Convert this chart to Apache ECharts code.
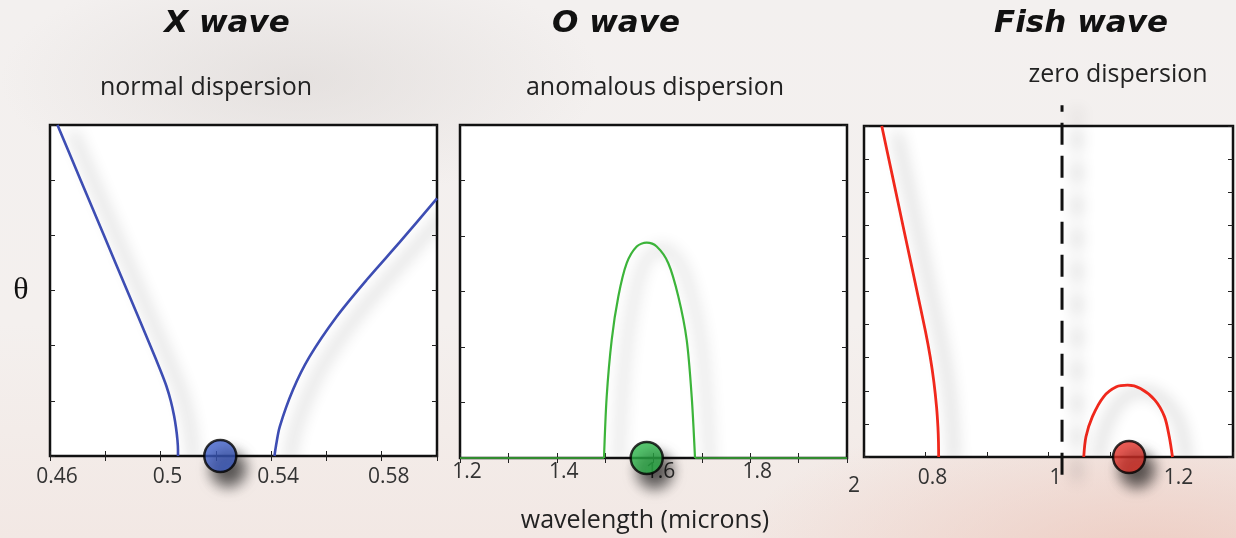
<!DOCTYPE html>
<html>
<head>
<meta charset="utf-8">
<script src="https://cdn.jsdelivr.net/npm/echarts@6/dist/echarts.min.js"></script>
<style>
html,body{margin:0;padding:0;}
body{width:1236px;height:538px;overflow:hidden;
background:
 radial-gradient(ellipse 420px 160px at 1150px 560px, rgba(236,196,184,0.75), rgba(236,196,184,0) 100%),
 radial-gradient(ellipse 300px 120px at 300px 80px, rgba(215,210,208,0.5), rgba(215,210,208,0) 100%),
 linear-gradient(180deg,#f3f0ef 0%,#f4f0ee 60%,#f2e8e4 100%);}
#c{width:1236px;height:538px;}
</style>
</head>
<body>
<div id="c"></div>
<script>
// ---- data (wavelength in microns, theta in arbitrary units) ----
const xLeftLambda  = [0.4627, 0.4711, 0.4795, 0.4879, 0.4963, 0.4999, 0.5021, 0.5037, 0.5049, 0.5056, 0.5061, 0.5063, 0.5063];
const xLeftTheta   = [6, 5, 4, 3, 2, 1.559, 1.269, 0.997, 0.725, 0.508, 0.290, 0.109, 0];
const xRightLambda = [0.5412, 0.5418, 0.5431, 0.5479, 0.5539, 0.5636, 0.5745, 0.5866, 0.6000];
const xRightTheta  = [0, 0.2, 0.53, 1.20, 1.80, 2.52, 3.19, 3.88, 4.67];
const xDot = [0.5216, 0];

const oLambda = [1.4977, 1.5032, 1.5136, 1.5273, 1.5446, 1.5653, 1.5859, 1.6066, 1.6306, 1.6513, 1.6686, 1.6790, 1.6858];
const oTheta  = [0, 1.10, 2.13, 2.91, 3.51, 3.81, 3.88, 3.81, 3.51, 2.91, 2.13, 1.10, 0];
const oBaseLeftLambda  = [1.2, 1.4977];
const oBaseRightLambda = [1.6858, 2.0];
const oBaseTheta = [0, 0];
const oDot = [1.586, 0];

const fishLeftLambda = [0.7289, 0.7461, 0.7645, 0.7828, 0.8000, 0.8077, 0.8136, 0.8180, 0.8202, 0.8211, 0.8214];
const fishLeftTheta  = [10, 8.5, 6.89, 5.30, 3.79, 3.02, 2.27, 1.51, 0.91, 0.45, 0];
const fishArchLambda = [1.0573, 1.0609, 1.0714, 1.0896, 1.1105, 1.1286, 1.1495, 1.1730, 1.1886, 1.1964, 1.2016];
const fishArchTheta  = [0, 0.61, 1.22, 1.82, 2.12, 2.17, 2.07, 1.72, 1.22, 0.61, 0];
const fishDot = [1.131, 0];
const zeroDispLambda = [1.022, 1.022];
const zeroDispTheta  = [-0.54, 10.63];

const xRanges = [[0.46, 0.60, 0.02], [1.2, 2.0, 0.1], [0.7, 1.3, 0.1]];
const yRanges = [[0, 6, 1], [0, 6, 1], [0, 10, 1]];

const titles = ['X wave', 'O wave', 'Fish wave'];
const subtitles = ['normal dispersion', 'anomalous dispersion', 'zero dispersion'];
const xAxisName = 'wavelength (microns)';
const yAxisName = 'θ';

// ---- build ----
const zip = (a, b) => a.map((v, i) => [v, b[i]]);
const sans = '"Open Sans", "Noto Sans", sans-serif';

const gridRects = [
  {left: 50, top: 125, width: 387, height: 331},
  {left: 460, top: 125, width: 387, height: 333},
  {left: 864, top: 126, width: 384, height: 331}
];
const grid = gridRects.map(r => Object.assign({show: true, backgroundColor: '#ffffff', borderColor: '#111', borderWidth: 2.5}, r));

const labelFilters = [
  v => Math.round(v * 100) % 4 === 2,
  v => Math.round(v * 10) % 2 === 0,
  v => Math.round(v * 10) % 2 === 0 && Math.round(v * 10) < 13
];
const labelMargins = [11, 4, 11];
const tick = {inside: true, length: 5, lineStyle: {color: '#222', width: 1}};

const xAxis = [];
const yAxis = [];
for (let i = 0; i < 3; i++) {
  const [mn, mx, iv] = xRanges[i];
  xAxis.push({
    type: 'value', gridIndex: i, min: mn, max: mx, interval: iv, position: 'bottom',
    axisLine: {show: false}, splitLine: {show: false}, axisTick: tick,
    axisLabel: {
      show: true, margin: labelMargins[i], color: '#333', fontFamily: sans, fontSize: 21,
      padding: [0, 0, 0, 14], showMinLabel: true, showMaxLabel: true,
      formatter: v => {
        if (!labelFilters[i](v)) return '';
        const s = String(parseFloat(v.toFixed(2)));
        return (i === 1 && s === '2') ? '{low|2}' : s;
      },
      rich: {low: {padding: [14, 0, 0, 0], fontSize: 21, fontFamily: sans, color: '#333'}}
    }
  });
}
for (let i = 0; i < 3; i++) {
  const [mn, mx, iv] = xRanges[i];
  xAxis.push({
    type: 'value', gridIndex: i, min: mn, max: mx, interval: iv, position: 'top',
    axisLine: {show: false}, splitLine: {show: false},
    axisTick: Object.assign({}, tick, {show: i !== 2}), axisLabel: {show: false}
  });
}
for (let i = 0; i < 3; i++) {
  const [mn, mx, iv] = yRanges[i];
  yAxis.push({
    type: 'value', gridIndex: i, min: mn, max: mx, interval: iv, position: 'left',
    axisLine: {show: false}, splitLine: {show: false}, axisTick: tick, axisLabel: {show: false}
  });
}
for (let i = 0; i < 3; i++) {
  const [mn, mx, iv] = yRanges[i];
  yAxis.push({
    type: 'value', gridIndex: i, min: mn, max: mx, interval: iv, position: 'right',
    axisLine: {show: false}, splitLine: {show: false}, axisTick: tick, axisLabel: {show: false}
  });
}

const shadow = {shadowColor: 'rgba(0,0,0,0.45)', shadowBlur: 15, shadowOffsetX: 15, shadowOffsetY: 6};
function curve(i, data, color, width, smooth) {
  return {
    type: 'line', xAxisIndex: i, yAxisIndex: i, data: data, symbol: 'none', smooth: smooth,
    lineStyle: Object.assign({color: color, width: width}, shadow), z: 3, silent: true
  };
}
function dot(i, p, color) {
  return {
    type: 'scatter', xAxisIndex: i, yAxisIndex: i, data: [p], symbolSize: 32, clip: false, z: 5, silent: true,
    itemStyle: {color: color, borderColor: '#000', borderWidth: 2.5,
      shadowColor: 'rgba(0,0,0,0.8)', shadowBlur: 14, shadowOffsetX: 8, shadowOffsetY: 13}
  };
}

const series = [
  curve(0, zip(xLeftLambda, xLeftTheta), '#3d4db3', 2.6, 0.2),
  curve(0, zip(xRightLambda, xRightTheta), '#3d4db3', 2.6, 0.3),
  dot(0, xDot, '#3f5fc9'),
  curve(1, zip(oBaseLeftLambda, oBaseTheta), '#3cb43a', 2, false),
  curve(1, zip(oBaseRightLambda, oBaseTheta), '#3cb43a', 2, false),
  curve(1, zip(oLambda, oTheta), '#3cb43a', 2.2, 0.3),
  dot(1, oDot, '#2db84b'),
  curve(2, zip(fishLeftLambda, fishLeftTheta), '#f0281c', 2.8, 0.2),
  curve(2, zip(fishArchLambda, fishArchTheta), '#f0281c', 2.8, 0.3),
  Object.assign(curve(2, zip(zeroDispLambda, zeroDispTheta), '#111', 3, false), {clip: false, z: 4,
    lineStyle: Object.assign({color: '#111', width: 3, type: [22, 11]}, shadow)}),
  dot(2, fishDot, '#e5332a')
];
[3, 4].forEach(k => { series[k].lineStyle.shadowBlur = 0; series[k].lineStyle.shadowColor = 'transparent'; series[k].lineStyle.opacity = 0.75; });

const titleX = [227, 616, 1081];
const subX = [206, 655, 1118];
const subY = [88, 88, 75];
const graphic = [];
for (let i = 0; i < 3; i++) {
  graphic.push({type: 'text', x: titleX[i], y: 24, z: 10, style: {text: titles[i], align: 'center', verticalAlign: 'middle',
    fontFamily: '"DejaVu Sans", sans-serif', fontWeight: 'bold', fontStyle: 'italic', fontSize: 31, fill: '#111'}});
  graphic.push({type: 'text', x: subX[i], y: subY[i], z: 10, style: {text: subtitles[i], align: 'center', verticalAlign: 'middle',
    fontFamily: sans, fontSize: 25, fill: '#222'}});
}
graphic.push({type: 'text', x: 645, y: 521, z: 10, style: {text: xAxisName, align: 'center', verticalAlign: 'middle',
  fontFamily: sans, fontSize: 25, fill: '#222'}});
graphic.push({type: 'text', x: 21, y: 291, z: 10, style: {text: yAxisName, align: 'center', verticalAlign: 'middle',
  fontFamily: '"Liberation Serif", "DejaVu Serif", serif', fontSize: 32, fill: '#111'}});

const chart = echarts.init(document.getElementById('c'), null, {renderer: 'canvas'});
chart.setOption({backgroundColor: 'transparent', animation: false, grid, xAxis, yAxis, series, graphic});
</script>
</body>
</html>
